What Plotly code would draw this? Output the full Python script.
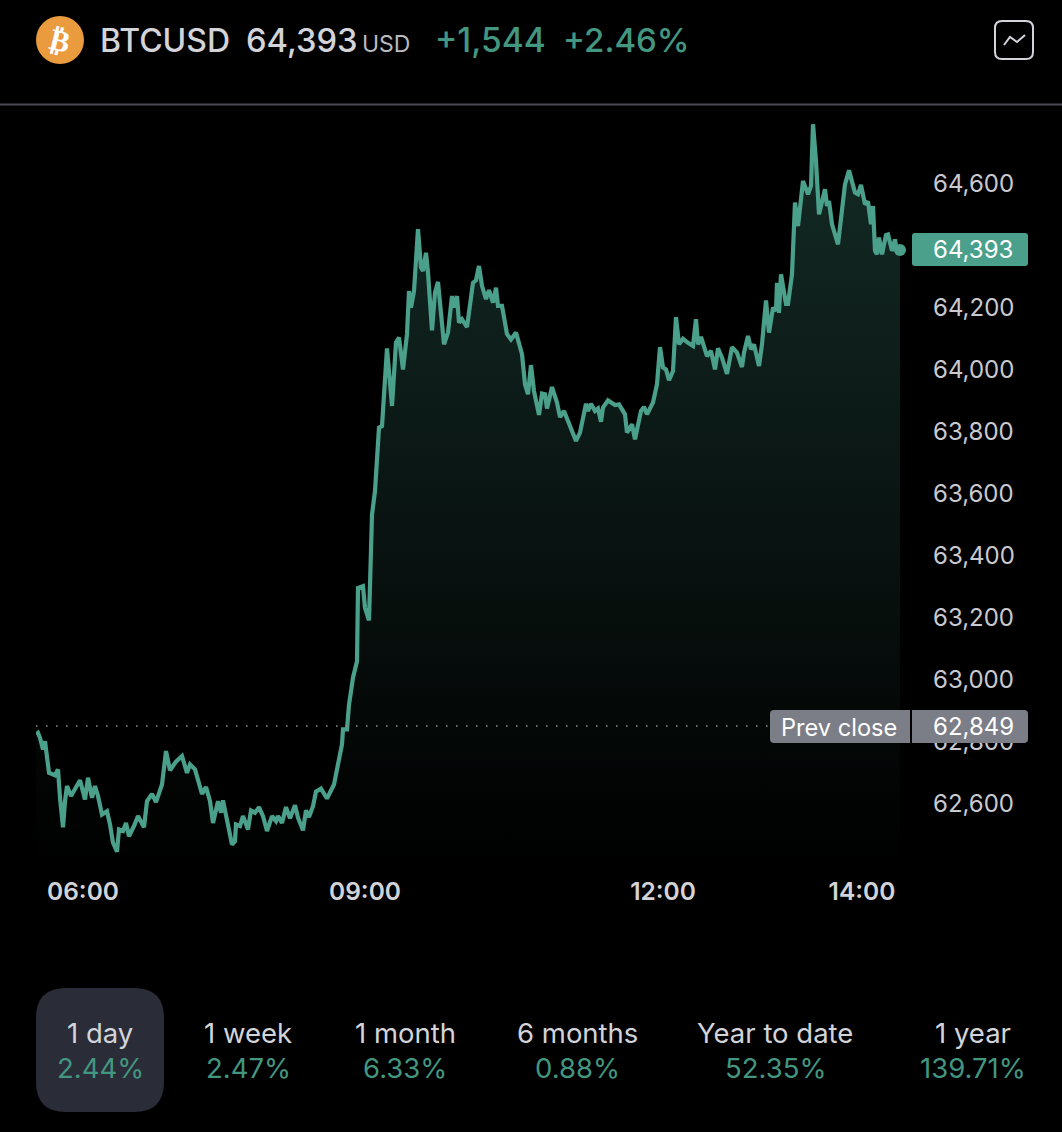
import plotly.graph_objects as go

W, H = 1062, 1132
bars = [0,2,4,7,9,11,13,19,22,24,27,29,31,35,39,44,49,52,56,59,62,66,71,74,77,81,83,87,90,93,98,102,108,111,116,120,126,130,134,140,146,151,154,159,166,170,174,177,182,185,187,194,196,199,200,204,207,212,215,219,223,227,231,236,240,242,246,250,254,259,262,267,270,273,277,280,285,291,298,301,306,307,311,313,317,321,322,327,329,333,336,339,342,343,346,351,356,360,363,367,371,373,375,378,382,385,387,390,392,396,399,402,408,412,416,418,421,423,426,431,437,440,443,446,450,453,457,460,462,466,471,475,480,486,489,492,495,498,503,506,509,511,516,521,524,528,534,540,544,550,552,555,559,562,565,567,572,579,583,589,591,596,599,605,608,611,617,621,624,627,630,633,637,640,643,647,652,657,660,662,665,669,671,675,679,682,686,691,696,701,706,708,712,715,718,723,726,730,733,737,740,741,743,745,750,752,756,759,762,767,772,775,777,780,783,789,791,793,796,802,805,809,813,816,819,822,825,829,832,835,837,839,841,843,846,850,852,856,859,861,864]
prices = [62822,62827,62811,62773,62800,62746,62698,62690,62709,62617,62522,62606,62655,62623,62644,62674,62612,62682,62617,62655,62623,62563,62574,62531,62472,62443,62515,62510,62536,62493,62526,62558,62522,62606,62630,62603,62660,62768,62706,62734,62752,62698,62725,62709,62630,62652,62606,62536,62606,62569,62609,62499,62466,62477,62531,62526,62558,62515,62576,62569,62587,62558,62510,62558,62542,62558,62536,62587,62551,62593,62553,62512,62577,62555,62590,62637,62647,62615,62660,62709,62790,62838,62838,62918,63005,63058,63295,63301,63231,63190,63532,63608,63743,63813,63818,64069,63883,64088,64104,64001,64115,64254,64201,64254,64454,64330,64319,64378,64314,64127,64249,64284,64082,64120,64238,64201,64238,64152,64163,64138,64281,64289,64335,64271,64228,64257,64217,64265,64206,64206,64115,64098,64120,64050,63953,63921,64015,63931,63854,63923,63921,63875,63944,63894,63847,63867,63818,63770,63797,63890,63867,63890,63867,63875,63832,63878,63901,63886,63888,63856,63797,63824,63775,63867,63880,63856,63894,63953,64073,64007,64001,63966,63996,64170,64082,64100,64087,64077,64163,64082,64106,64071,64044,64061,64001,64069,64039,63987,64073,64055,64009,64055,64109,64066,64082,64012,64082,64224,64120,64201,64190,64281,64184,64308,64213,64213,64308,64540,64464,64610,64567,64594,64793,64674,64502,64583,64529,64545,64470,64405,64497,64599,64644,64604,64572,64567,64597,64534,64543,64470,64529,64384,64373,64427,64373,64435,64437,64384,64421,64378,64387]
y_ticks = [62600,62800,63000,63200,63400,63600,63800,64000,64200,64400,64600]
x_tick_bars = [47,329,627,826]
x_tick_labels = ["06:00","09:00","12:00","14:00"]
prev_close = 62849
prev_close_label = "62,849"
last_label = "64,393"
periods = ["1 day","1 week","1 month","6 months","Year to date","1 year"]
period_returns = ["2.44%","2.47%","6.33%","0.88%","52.35%","139.71%"]

FONT = "Inter"
GREEN = "#4AA08B"
TXTGREEN = "#43967F"
LIGHT = "#D3D4D9"
GREY = "#7B7D87"

def px(x): return x / W
def py(y): return 1 - y / H

def rrect(x0, y0, x1, y1, r=(6, 6, 6, 6)):
    tl, tr, br, bl = r
    pts = [f"M {px(x0+tl)} {py(y0)}", f"L {px(x1-tr)} {py(y0)}", f"Q {px(x1)} {py(y0)} {px(x1)} {py(y0+tr)}",
           f"L {px(x1)} {py(y1-br)}", f"Q {px(x1)} {py(y1)} {px(x1-br)} {py(y1)}",
           f"L {px(x0+bl)} {py(y1)}", f"Q {px(x0)} {py(y1)} {px(x0)} {py(y1-bl)}",
           f"L {px(x0)} {py(y0+tl)}", f"Q {px(x0)} {py(y0)} {px(x0+tl)} {py(y0)}", "Z"]
    return " ".join(pts)

shapes, annos = [], []

def box(x0, y0, x1, y1, r, fill=None, line=None, lw=0):
    shapes.append(dict(type="path", xref="paper", yref="paper", path=rrect(x0, y0, x1, y1, r), fillcolor=fill or "rgba(0,0,0,0)",
                       line=dict(color=line or "rgba(0,0,0,0)", width=lw), layer="above"))

def text(x, y, s, size, color, anchor="center", weight=400, family=FONT, angle=0):
    annos.append(dict(xref="paper", yref="paper", x=px(x), y=py(y), text=s, showarrow=False, xanchor=anchor, yanchor="middle",
                      font=dict(family=family, size=size, color=color, weight=weight), textangle=angle))

# header
shapes.append(dict(type="circle", xref="paper", yref="paper", x0=px(36), x1=px(84), y0=py(64), y1=py(16), fillcolor="#E99B3D", line_width=0, layer="above"))
text(60, 40, "₿", 30, "#FFFFFF", weight=700, family="DejaVu Sans", angle=14)
text(98, 40, "BTCUSD", 32, LIGHT, "left", 500)
text(244, 40, "64,393", 32.7, LIGHT, "left", 500)
text(360, 44, "USD", 23, "#B9BAC0", "left")
text(433, 40, "+1,544", 33.5, TXTGREEN, "left", 500)
text(561, 40, "+2.46%", 33, TXTGREEN, "left", 500)
box(995, 21, 1033, 59, (7, 7, 7, 7), line=LIGHT, lw=2)
shapes.append(dict(type="path", xref="paper", yref="paper", layer="above", line=dict(color=LIGHT, width=2),
                   path=f"M {px(1004)} {py(45)} L {px(1010)} {py(37)} L {px(1017)} {py(42)} L {px(1025)} {py(35)}"))
shapes.append(dict(type="line", xref="paper", yref="paper", x0=0, x1=1, y0=py(104.5), y1=py(104.5), line=dict(color="#4A4A55", width=2), layer="above"))

# price tags
box(912, 233, 1028, 266, (3, 3, 3, 3), fill=GREEN)
text(973, 249.5, last_label, 24, "#FFFFFF")
box(770, 710, 910, 743, (4, 0, 0, 4), fill=GREY)
box(912, 710, 1028, 743, (0, 4, 4, 0), fill=GREY)
text(839, 727.5, "Prev close", 23.6, "#FFFFFF")
text(973, 726.5, prev_close_label, 24, "#FFFFFF")

# period selector
box(36, 988, 164, 1112, (30, 30, 30, 30), fill="#2A2D38")
centers = [100, 248, 405, 577, 775, 973]
for c, p, r in zip(centers, periods, period_returns):
    text(c, 1033, p, 27.5, LIGHT)
    text(c, 1068, r, 27.5, TXTGREEN)
for i, a in enumerate([0.15, 0.3, 0.45, 0.6]):
    x0 = 1012 + i * 6
    shapes.append(dict(type="rect", xref="paper", yref="paper", x0=px(x0), x1=px(x0 + 6), y0=py(1085), y1=py(1052),
                       fillcolor=f"rgba(0,0,0,{a})", line_width=0, layer="above"))

floor_price = 62413
fig = go.Figure()
fig.add_trace(go.Scatter(x=bars, y=[floor_price] * len(bars), mode="lines", line=dict(width=0), hoverinfo="skip", showlegend=False))
fig.add_trace(go.Scatter(x=bars, y=prices, mode="lines", line=dict(color=GREEN, width=4.2, shape="linear"), fill="tonexty",
                         fillgradient=dict(type="vertical", colorscale=[[0, "rgba(74,160,139,0)"], [1, "rgba(74,160,139,0.27)"]]),
                         showlegend=False))
fig.add_trace(go.Scatter(x=[0, 734], y=[prev_close, prev_close], mode="lines", line=dict(color="#8A8A8A", width=1.6, dash="1.6px,8.4px"), showlegend=False))
fig.add_trace(go.Scatter(x=[bars[-1]], y=[prices[-1]], mode="markers", marker=dict(color=GREEN, size=12), cliponaxis=False, showlegend=False))

fig.update_layout(
    width=W, height=H, margin=dict(l=0, r=0, t=0, b=0), paper_bgcolor="#000000", plot_bgcolor="#000000",
    shapes=shapes, annotations=annos, showlegend=False,
    xaxis=dict(domain=[36 / W, 900 / W], range=[0, 864], tickmode="array", tickvals=x_tick_bars, ticktext=x_tick_labels,
               showgrid=False, zeroline=False, showline=False, ticks="", ticklabelstandoff=13,
               tickfont=dict(family=FONT, size=24.5, color=LIGHT, weight=600)),
    yaxis=dict(domain=[py(861), py(106)], range=[floor_price, 64852], side="right", tickmode="array", tickvals=y_ticks,
               ticktext=[f"{v:,}" for v in y_ticks], showgrid=False, zeroline=False, showline=False, ticks="", ticklabelstandoff=32,
               tickfont=dict(family=FONT, size=24, color="#C9CACF")),
)
fig.write_html("out.html", config=dict(displayModeBar=False), post_script="document.body.style.margin='0';document.body.style.background='#000';")
